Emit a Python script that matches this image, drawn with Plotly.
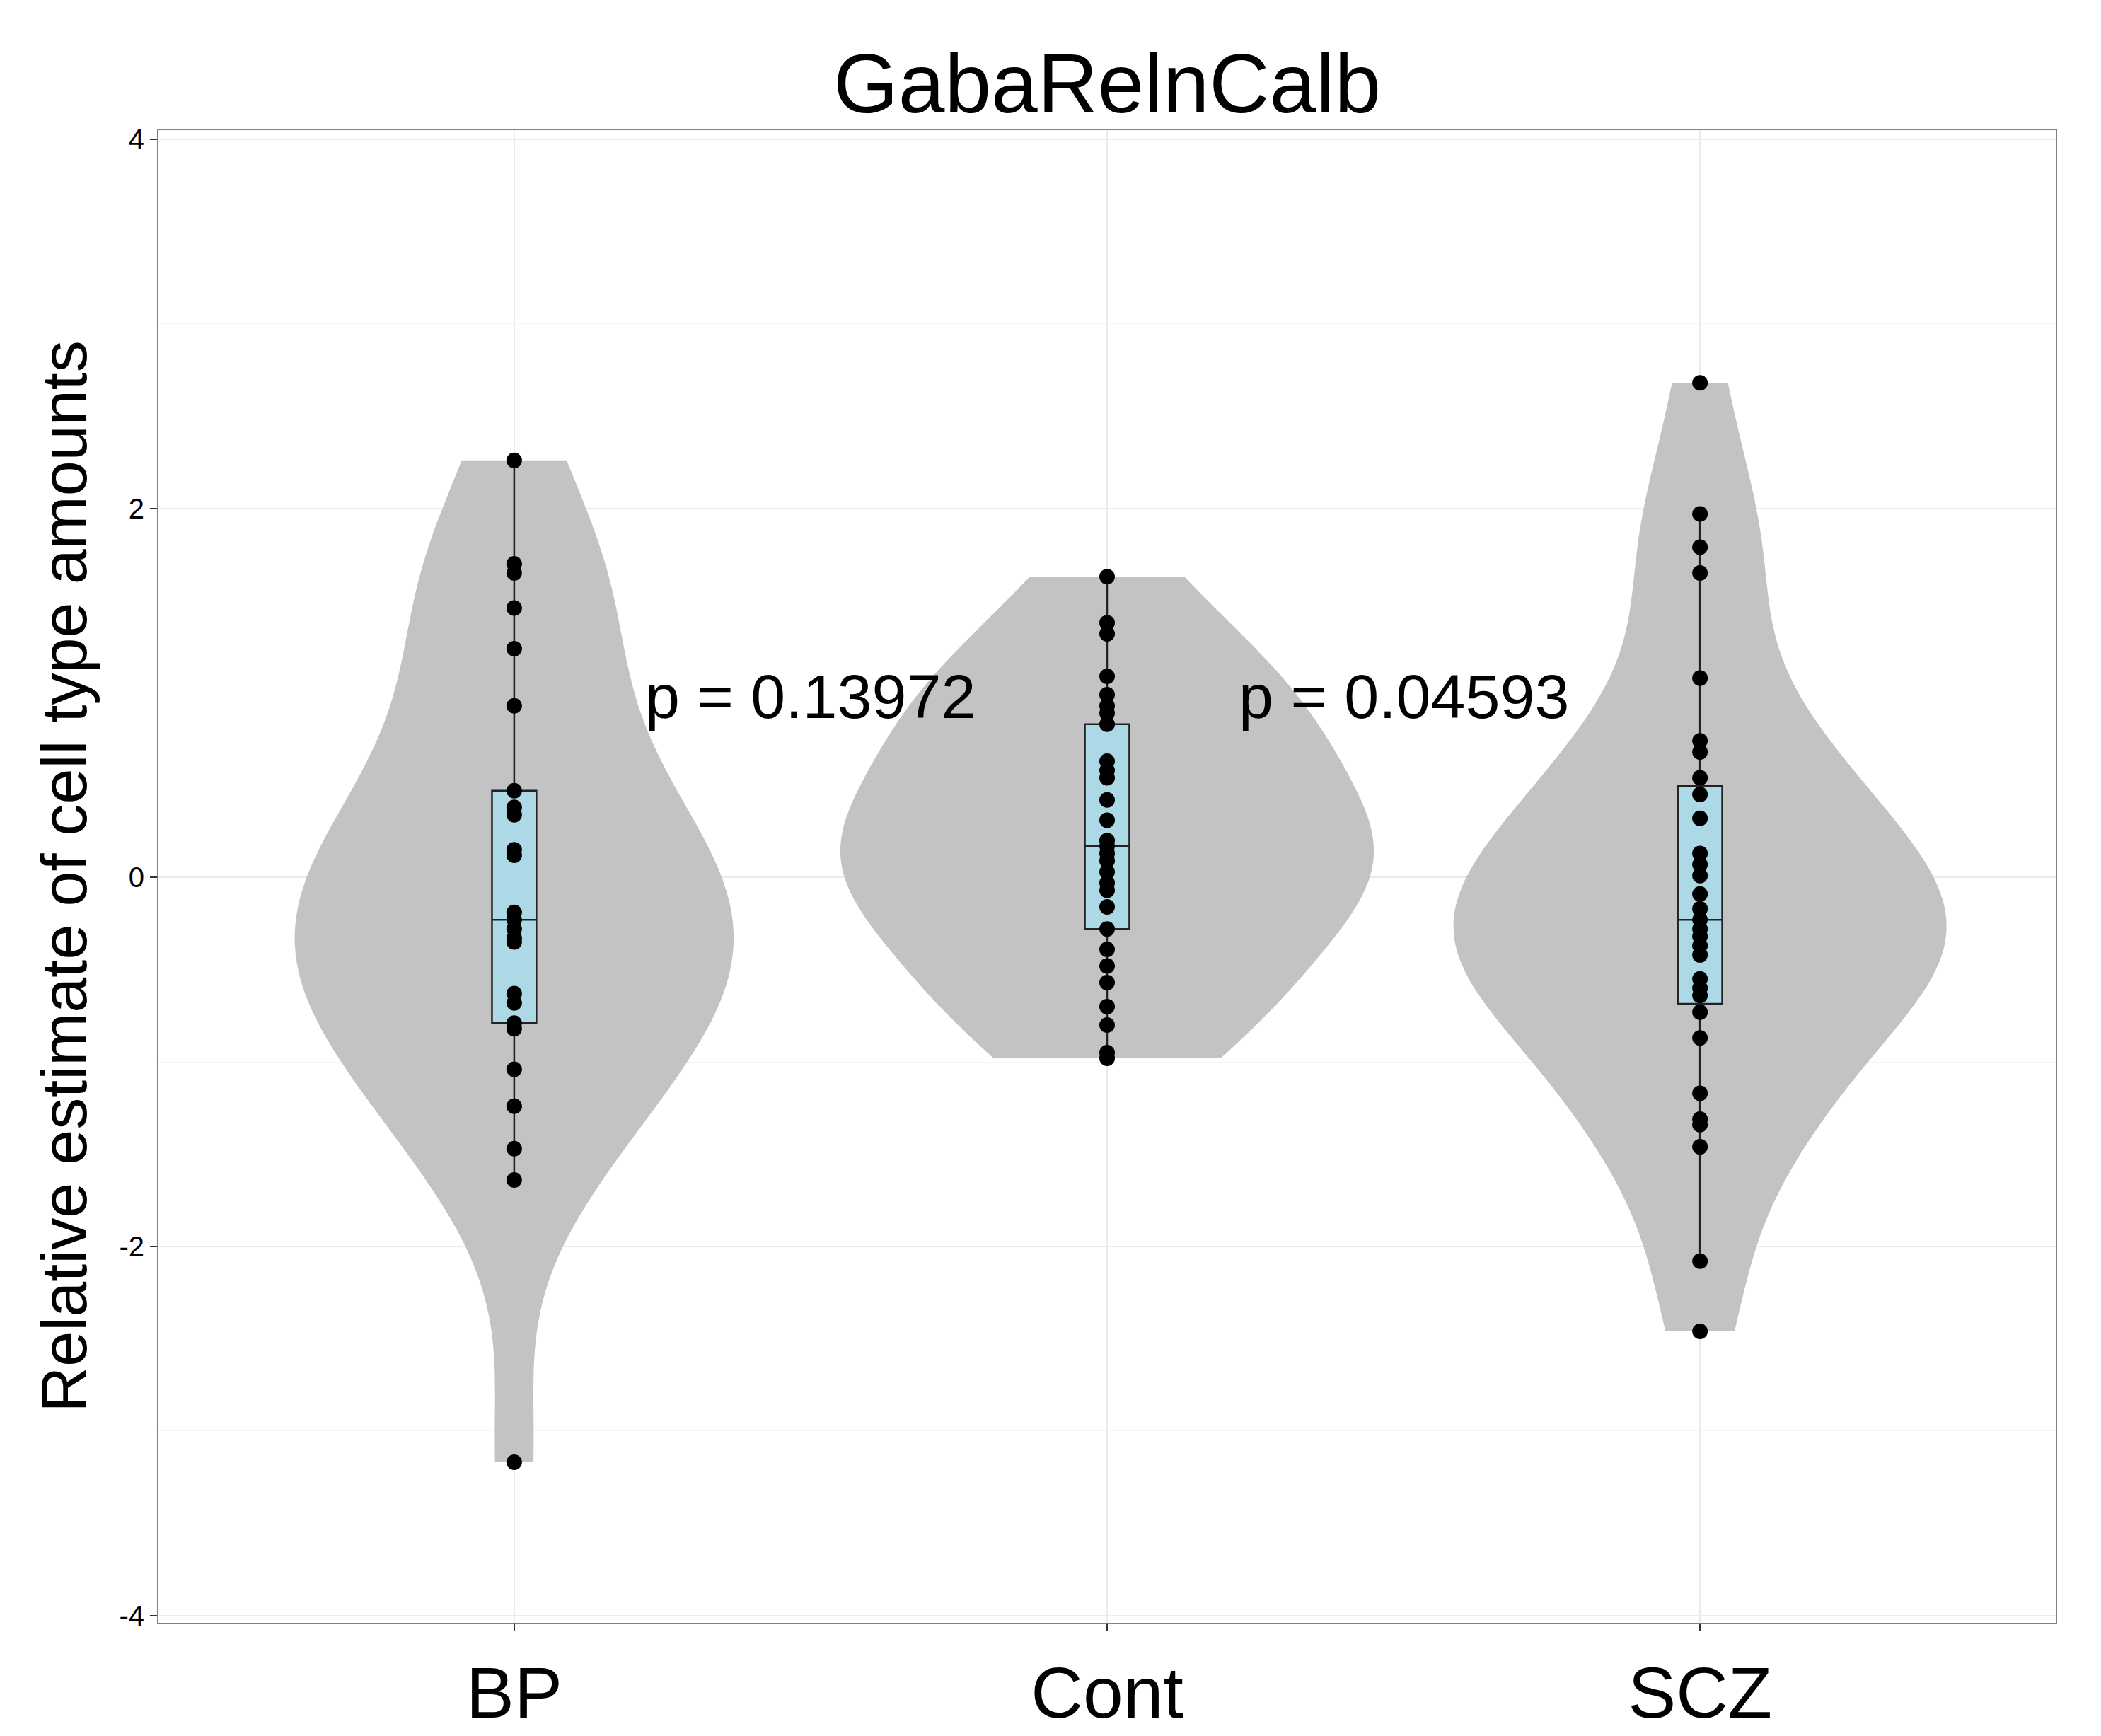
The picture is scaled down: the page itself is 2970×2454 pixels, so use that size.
import plotly.graph_objects as go

groups = ["BP", "Cont", "SCZ"]
bp_vals = [2.26, 1.70, 1.65, 1.46, 1.24, 0.93, 0.47, 0.38, 0.34, 0.15, 0.12, -0.19, -0.23,
           -0.28, -0.33, -0.35, -0.63, -0.68, -0.79, -0.82, -1.04, -1.24, -1.47, -1.64, -3.17]
cont_vals = [1.63, 1.38, 1.32, 1.09, 0.99, 0.93, 0.89, 0.83, 0.63, 0.58, 0.54, 0.42, 0.31,
             0.20, 0.17, 0.13, 0.09, 0.03, -0.03, -0.07, -0.16, -0.28, -0.39, -0.48, -0.57,
             -0.70, -0.80, -0.95, -0.98]
scz_vals = [2.68, 1.97, 1.79, 1.65, 1.08, 0.74, 0.68, 0.54, 0.45, 0.32, 0.13, 0.07, 0.01,
            -0.09, -0.17, -0.23, -0.28, -0.32, -0.37, -0.42, -0.55, -0.60, -0.64, -0.73,
            -0.87, -1.17, -1.31, -1.34, -1.46, -2.08, -2.46]
violin_widths = [0.74, 0.9, 0.83]
p_labels = ["p = 0.13972", "p = 0.04593"]
y_ticks = [-4, -2, 0, 2, 4]

series = [bp_vals, cont_vals, scz_vals]
fig = go.Figure()

for i, vals in enumerate(series):
    fig.add_trace(go.Violin(
        x=[i] * len(vals), y=vals, width=violin_widths[i], spanmode="hard",
        points=False, fillcolor="#c3c3c3", line=dict(width=0, color="#c3c3c3"),
        opacity=1, showlegend=False, hoveron="violins"))

for i, vals in enumerate(series):
    fig.add_trace(go.Box(
        x=[i] * len(vals), y=vals, width=0.075, boxpoints="outliers",
        quartilemethod="inclusive", marker=dict(size=0, opacity=0),
        fillcolor="#add8e6", line=dict(color="#222222", width=2.5),
        whiskerwidth=0, showlegend=False))

for i, vals in enumerate(series):
    fig.add_trace(go.Scatter(
        x=[i] * len(vals), y=vals, mode="markers",
        marker=dict(color="black", size=22), showlegend=False))

for k, lab in enumerate(p_labels):
    fig.add_annotation(x=k + 0.5, y=0.98, text=lab, showarrow=False,
                       font=dict(size=88, color="black"))

fig.update_layout(
    width=2970, height=2454,
    title=dict(text="GabaRelnCalb", xref="paper", x=0.5, xanchor="center", y=0.972,
               font=dict(size=118, color="black")),
    font=dict(family="Liberation Sans, Arial, sans-serif", color="black"),
    plot_bgcolor="white", paper_bgcolor="white",
    violinmode="overlay", boxmode="overlay",
    margin=dict(l=216, r=72, t=176, b=166),
    xaxis=dict(range=[-0.6, 2.6], tickvals=[0, 1, 2], ticktext=groups,
               tickfont=dict(size=102), showgrid=True, gridcolor="#ebebeb", gridwidth=2,
               ticks="outside", ticklen=10, tickcolor="#333333", tickwidth=2,
               showline=True, linecolor="#7f7f7f", linewidth=2, mirror=True,
               zeroline=False),
    yaxis=dict(range=[-4.04, 4.05], tickvals=y_ticks, ticktext=[str(v) for v in y_ticks],
               tickfont=dict(size=40), showgrid=True, gridcolor="#ebebeb", gridwidth=2,
               minor=dict(tickvals=[-3, -1, 1, 3], showgrid=True, gridcolor="#f5f5f5",
                          gridwidth=1),
               ticks="outside", ticklen=10, tickcolor="#333333", tickwidth=2,
               showline=True, linecolor="#7f7f7f", linewidth=2, mirror=True,
               zeroline=False,
               title=dict(text="Relative estimate of cell type amounts",
                          font=dict(size=90), standoff=16)),
)

fig.write_html("out.html")
